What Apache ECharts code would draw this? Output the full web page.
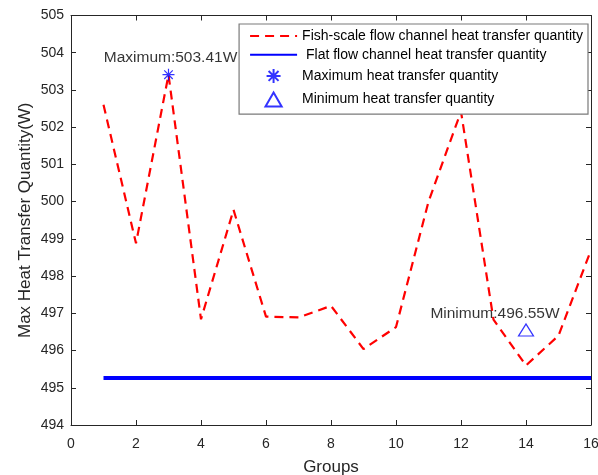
<!DOCTYPE html>
<html>
<head>
<meta charset="utf-8">
<script src="https://cdn.jsdelivr.net/npm/echarts@6/dist/echarts.min.js"></script>
<style>
  html, body { margin: 0; padding: 0; background: #fff; }
  #chart { width: 598px; height: 475px; }
</style>
</head>
<body>
<div id="chart"></div>
<script>
// Heat transfer per group: fish-scale channel vs. flat channel
const groups = [1, 2, 3, 4, 5, 6, 7, 8, 9, 10, 11, 12, 13, 14, 15, 16];
const fishScaleHeat = [502.6, 498.88, 503.41, 496.84, 499.78, 496.91, 496.89, 497.2,
                       496.04, 496.63, 500.0, 502.42, 496.83, 495.6, 496.4, 498.7];
const flatHeat = 495.26;
const maxPoint = [3, 503.41];
const minPoint = [14, 496.55];
const xTicks = [0, 2, 4, 6, 8, 10, 12, 14, 16];
const yTicks = [494, 495, 496, 497, 498, 499, 500, 501, 502, 503, 504, 505];

const FONT = 'Liberation Sans, Arial, sans-serif';
const AXIS_COLOR = '#262626';

const fishData = groups.map((g, i) => [g, fishScaleHeat[i]]);
const flatData = [[groups[0], flatHeat], [groups[groups.length - 1], flatHeat]];

const asteriskPath = 'path://M10,0L10,20M0,10L20,10M2.9,2.9L17.1,17.1M2.9,17.1L17.1,2.9';
const trianglePath = 'path://M10,0L20,17.3L0,17.3Z';

const baseX = {
  type: 'value', min: xTicks[0], max: xTicks[xTicks.length - 1], interval: 2,
  splitLine: { show: false },
  axisLine: { show: true, onZero: false, lineStyle: { color: AXIS_COLOR, width: 1 } },
  axisTick: { show: true, inside: true, length: 5, lineStyle: { color: AXIS_COLOR } }
};
const baseY = {
  type: 'value', min: yTicks[0], max: yTicks[yTicks.length - 1], interval: 1,
  splitLine: { show: false },
  axisLine: { show: true, onZero: false, lineStyle: { color: AXIS_COLOR, width: 1 } },
  axisTick: { show: true, inside: true, length: 5, lineStyle: { color: AXIS_COLOR } }
};

// legend rows for plain lines carry no marker
const hiddenMarker = { opacity: 0 };

const chart = echarts.init(document.getElementById('chart'), null, { renderer: 'canvas' });
chart.setOption({
  animation: false,
  backgroundColor: '#fff',
  grid: { left: 71, right: 7, top: 15.5, bottom: 50, containLabel: false, outerBoundsMode: 'none' },
  legend: {
    orient: 'vertical',
    right: 10, top: 24,
    padding: [5, 5, 5, 10],
    itemGap: 4.7,
    itemWidth: 47, itemHeight: 14,
    backgroundColor: '#fff',
    borderColor: '#7a7a7a', borderWidth: 1.2,
    textStyle: { fontFamily: FONT, fontSize: 14, color: '#000' },
    data: [
      { name: 'Fish-scale flow channel heat transfer quantity', itemStyle: hiddenMarker },
      { name: ' Flat flow channel heat transfer quantity', itemStyle: hiddenMarker },
      { name: 'Maximum heat transfer quantity', icon: asteriskPath },
      { name: 'Minimum heat transfer quantity', icon: trianglePath }
    ]
  },
  xAxis: [
    Object.assign({}, baseX, {
      position: 'bottom',
      name: 'Groups', nameLocation: 'middle', nameGap: 34, nameMoveOverlap: false,
      nameTextStyle: { fontFamily: FONT, fontSize: 17, color: AXIS_COLOR },
      axisLabel: { fontFamily: FONT, fontSize: 14, color: AXIS_COLOR, margin: 12 }
    }),
    Object.assign({}, baseX, { position: 'top', axisLabel: { show: false } })
  ],
  yAxis: [
    Object.assign({}, baseY, {
      position: 'left',
      name: 'Max Heat Transfer Quantity(W)', nameLocation: 'middle', nameGap: 37,
      nameMoveOverlap: false,
      nameTextStyle: { fontFamily: FONT, fontSize: 17, color: AXIS_COLOR },
      axisLabel: { fontFamily: FONT, fontSize: 14, color: AXIS_COLOR, margin: 7 }
    }),
    Object.assign({}, baseY, { position: 'right', axisLabel: { show: false } })
  ],
  series: [
    {
      name: 'Fish-scale flow channel heat transfer quantity',
      type: 'line', data: fishData, symbol: 'none', z: 3,
      lineStyle: { color: '#ff0000', width: 2.2, type: [9, 6] },
      itemStyle: { color: '#ff0000' }
    },
    {
      name: ' Flat flow channel heat transfer quantity',
      type: 'line', data: flatData, symbol: 'none', z: 2,
      lineStyle: { color: '#0000ff', width: 4 },
      itemStyle: { color: '#0000ff' }
    },
    {
      name: 'Maximum heat transfer quantity',
      type: 'scatter', data: [maxPoint], symbol: asteriskPath, symbolSize: 12, z: 4,
      itemStyle: { color: 'none', borderColor: '#0000ff', borderWidth: 1.2 },
      label: {
        show: true, position: 'top', distance: 0, offset: [2, 0],
        fontFamily: FONT, fontSize: 15.5, color: '#000',
        formatter: p => 'Maximum:' + p.value[1].toFixed(2) + 'W'
      }
    },
    {
      name: 'Minimum heat transfer quantity',
      type: 'scatter', data: [minPoint], symbol: 'triangle', symbolSize: [15, 12], z: 4,
      itemStyle: { color: 'none', borderColor: '#0000ff', borderWidth: 1.2 },
      label: {
        show: true, position: 'top', distance: 0, offset: [-31, 0],
        fontFamily: FONT, fontSize: 15.5, color: '#000',
        formatter: p => 'Minimum:' + p.value[1].toFixed(2) + 'W'
      }
    }
  ]
});
</script>
</body>
</html>
